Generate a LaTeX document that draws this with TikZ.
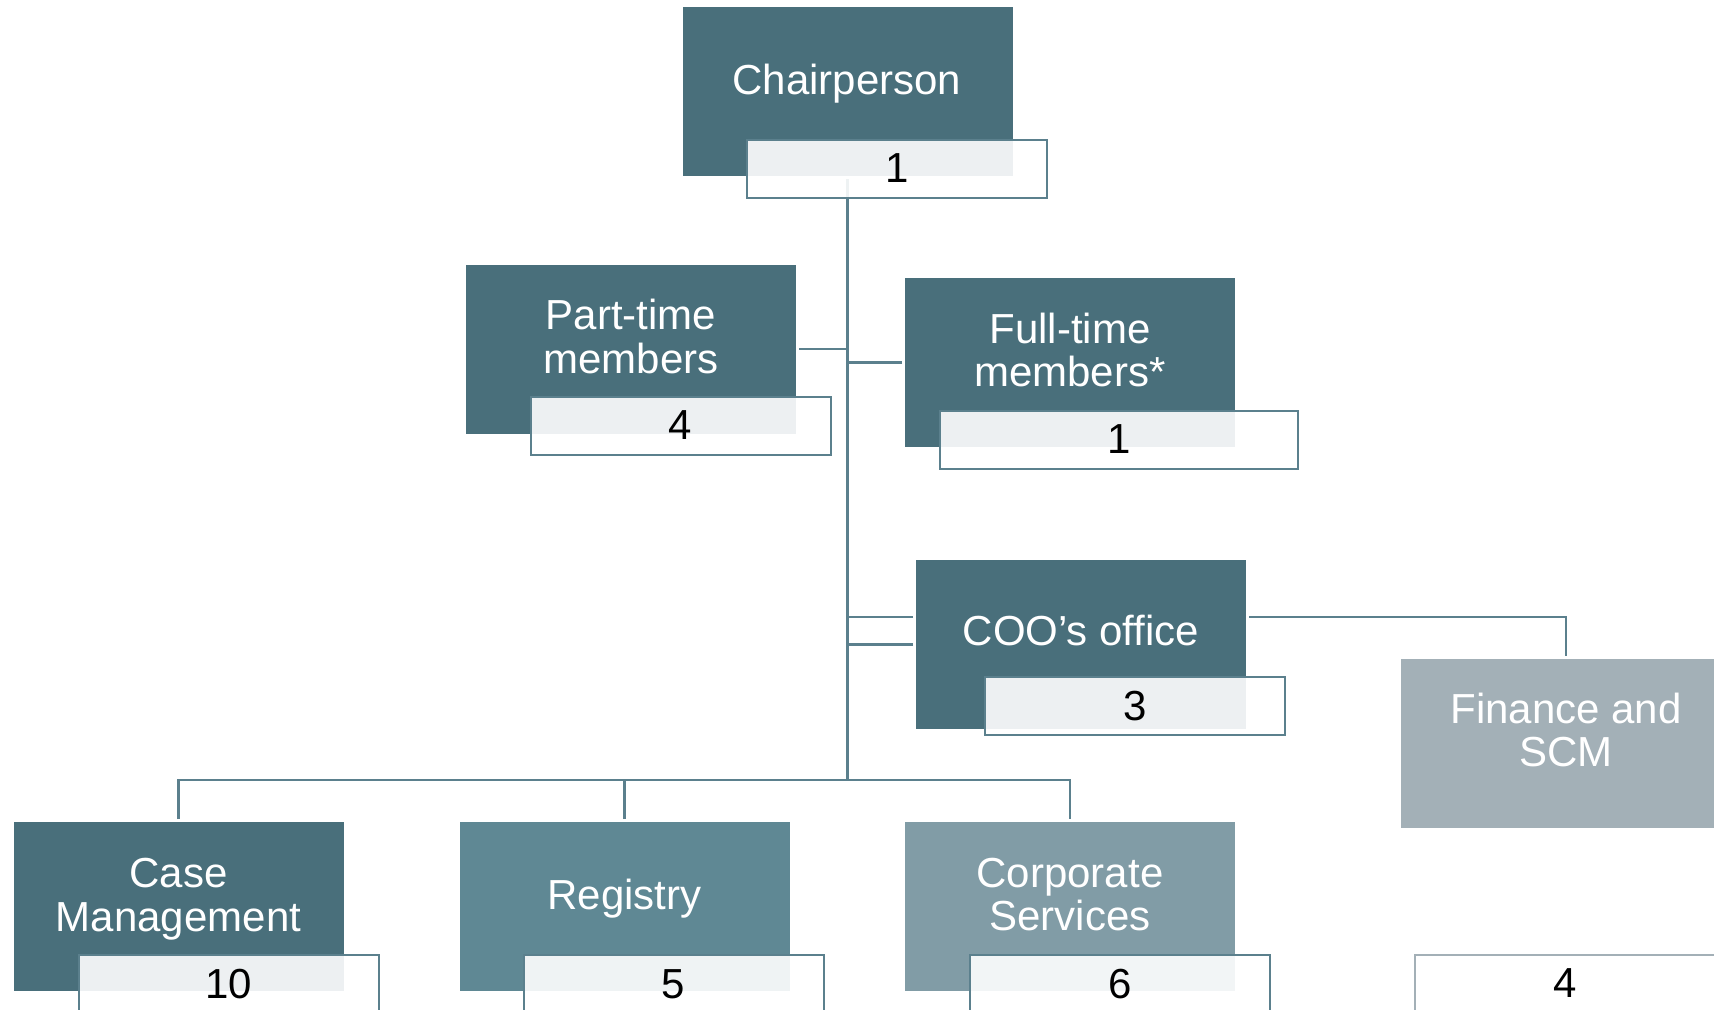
\documentclass[tikz,border=0pt]{standalone}
\usepackage{fontspec}
\setmainfont{Liberation Sans}
\definecolor{darkbox}{HTML}{496F7B}
\definecolor{regbox}{HTML}{5F8894}
\definecolor{corpbox}{HTML}{819CA6}
\definecolor{finbox}{HTML}{A3B0B7}
\definecolor{linec}{HTML}{5B808D}
\begin{document}
\begin{tikzpicture}[x=0.5pt,y=-0.5pt,
  box/.style={rectangle, inner sep=0pt, outer sep=1.5pt, draw=none, fill=#1,
    minimum width=165pt, minimum height=84.5pt},
  cnt/.style={rectangle, inner sep=0pt, draw=linec, line width=1pt, fill=white,
    fill opacity=0.9, text opacity=1, text=black,
    minimum width=150pt, minimum height=29pt,
    font=\fontsize{21}{21}\selectfont},
  lbl/.style={text=white, align=center, inner sep=0pt, anchor=base,
    font=\fontsize{21}{21.75}\selectfont},
  conn/.style={draw=linec, line width=1.3pt}]
\useasboundingbox (0,0) rectangle (1714,1009);
\clip (0,0) rectangle (1714,1009);

% main boxes
\node[box=darkbox] (chair) at (847.5,91.5) {};
\node[box=darkbox] (part) at (631,349) {};
\node[box=darkbox] (full) at (1070,362.5) {};
\node[box=darkbox] (coo) at (1081,644.5) {};
\node[box=finbox] (fin) at (1566,743) {};
\node[box=darkbox] (case) at (178.5,906.5) {};
\node[box=regbox] (reg) at (624.5,906.5) {};
\node[box=corpbox] (corp) at (1070,906.5) {};

% labels (base anchor = baseline of last line)
\node[lbl] (tchair) at (847,94) {Chairperson};
\node[lbl] (tpart) at (631,373) {Part-time\\members};
\node[lbl] (tfull) at (1070,386.7) {Full-time\\members*};
\node[lbl] (tcoo) at (1081,645) {COO’s office};
\node[lbl] (tfin) at (1566,766.7) {Finance and\\SCM};
\node[lbl] (tcase) at (178.5,931) {Case\\Management};
\node[lbl] (treg) at (624.5,909) {Registry};
\node[lbl] (tcorp) at (1070,930.5) {Corporate\\Services};

% connectors
\coordinate (bus) at (847.5,780);
\draw[conn] (chair.south) -- (chair.south |- bus);
\draw[conn] (part.east) -- (part.east -| chair.south);
\draw[conn] (full.west) -- (full.west -| chair.south);
\draw[conn] ([yshift=13.75pt]coo.west) -- ([yshift=13.75pt]coo.west -| chair.south);
\draw[conn] (coo.west) -- (coo.west -| chair.south);
\draw[conn] ([yshift=13.75pt]coo.east) -| (fin.north);
\draw[conn] (case.north) -- (case.north |- bus) -- (corp.north |- bus) -- (corp.north);
\draw[conn] (reg.north) -- (reg.north |- bus);

% count boxes
\node[cnt] (cchair) at (897,168.5) {1};
\node[cnt] (cpart) at (680.5,425.5) {4};
\node[cnt, minimum width=179pt] (cfull) at (1119,439.5) {1};
\node[cnt] (ccoo) at (1135,706) {3};
\node[cnt, draw=finbox] (cfin) at (1565,983.5) {4};
\node[cnt] (ccase) at (228.5,984) {10};
\node[cnt] (creg) at (673.5,984) {5};
\node[cnt] (ccorp) at (1120,984) {6};
\end{tikzpicture}
\end{document}
